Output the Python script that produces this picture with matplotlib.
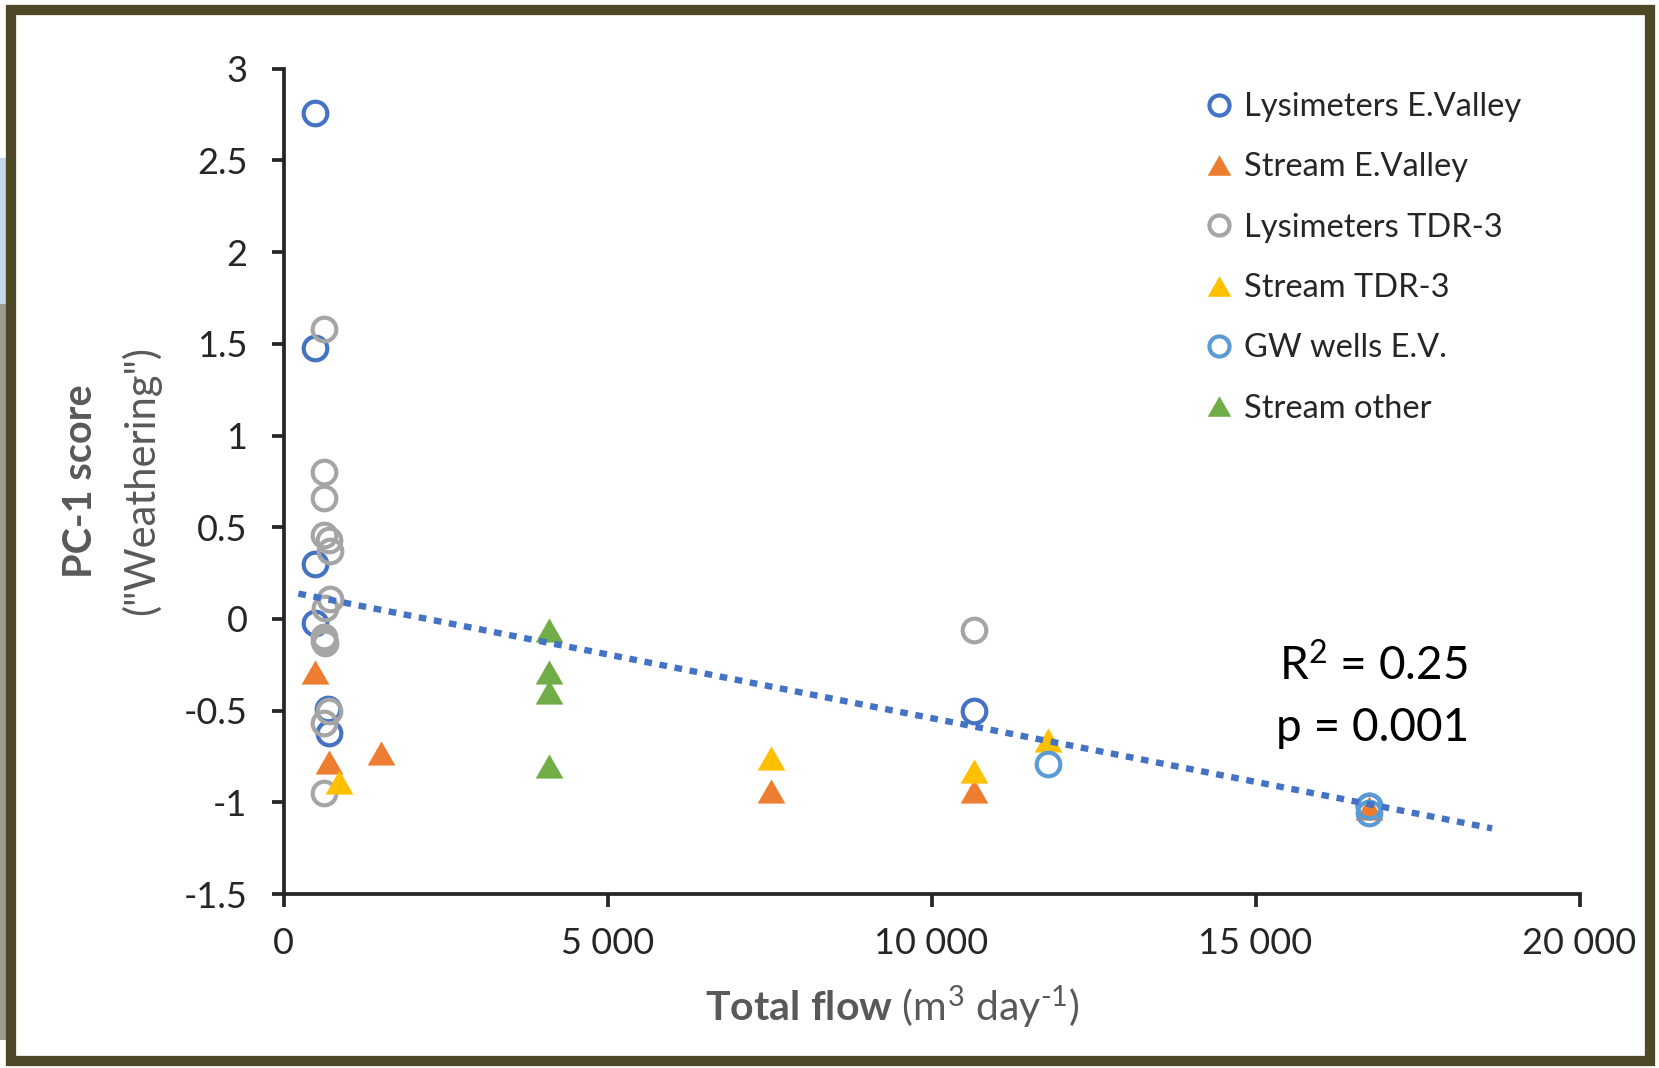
import matplotlib
matplotlib.use("Agg")
import matplotlib.pyplot as plt
from matplotlib.patches import Rectangle
from matplotlib.path import Path
from matplotlib.ticker import FuncFormatter

plt.rcParams['font.family'] = ['Lato', 'DejaVu Sans']
plt.rcParams['axes.unicode_minus'] = False
plt.rcParams['mathtext.fontset'] = 'custom'
plt.rcParams['mathtext.rm'] = 'Lato'
plt.rcParams['mathtext.bf'] = 'Lato:bold'
plt.rcParams['mathtext.it'] = 'Lato:italic'

# ---- data: total flow (m3/day) vs PC-1 score ----
lys_ev_x = [480, 480, 480, 480, 690, 700, 10650, 16750]
lys_ev_y = [2.76, 1.48, 0.30, -0.02, -0.49, -0.62, -0.50, -1.02]

stream_ev_x = [490, 700, 1500, 7530, 10650, 16750]
stream_ev_y = [-0.29, -0.78, -0.73, -0.94, -0.94, -1.03]

lys_tdr_x = [620, 620, 620, 620, 700, 720, 710, 640, 620, 640, 620, 700, 620, 620, 10650]
lys_tdr_y = [1.58, 0.80, 0.66, 0.46, 0.43, 0.37, 0.11, 0.06, -0.10, -0.13, -0.12, -0.50, -0.57, -0.95, -0.06]

stream_tdr_x = [850, 7530, 10650, 11800]
stream_tdr_y = [-0.89, -0.76, -0.83, -0.66]

gw_ev_x = [11800, 16750, 16750]
gw_ev_y = [-0.79, -1.02, -1.06]

stream_other_x = [4100, 4100, 4100, 4100]
stream_other_y = [-0.06, -0.29, -0.40, -0.80]

# linear trend (intercept, slope) and its drawn x-range
trend_x = [230, 18650]
trend_coef = (0.154, -6.95e-5)

x_ticks = [0, 5000, 10000, 15000, 20000]
y_ticks = [-1.5, -1, -0.5, 0, 0.5, 1, 1.5, 2, 2.5, 3]

series = [
    ("Lysimeters E.Valley", lys_ev_x, lys_ev_y, "o", "#4472C4"),
    ("Stream E.Valley", stream_ev_x, stream_ev_y, "tri", "#ED7D31"),
    ("Lysimeters TDR-3", lys_tdr_x, lys_tdr_y, "o", "#A5A5A5"),
    ("Stream TDR-3", stream_tdr_x, stream_tdr_y, "tri", "#FFC000"),
    ("GW wells E.V.", gw_ev_x, gw_ev_y, "o", "#5B9BD5"),
    ("Stream other", stream_other_x, stream_other_y, "tri", "#70AD47"),
]

# flat equilateral-ish triangle marker
tri_marker = Path([(0, 0.87), (-1, -0.87), (1, -0.87), (0, 0.87)],
                  [Path.MOVETO, Path.LINETO, Path.LINETO, Path.CLOSEPOLY])

W, H = 1659, 1068
fig = plt.figure(figsize=(W / 100, H / 100), dpi=100)
fig.patch.set_facecolor("white")

# photo strip peeking out at the left edge
fig.patches.append(Rectangle((0, 1 - 304 / H), 7 / W, (304 - 158) / H,
                             transform=fig.transFigure, facecolor="#C3D6EA",
                             edgecolor="none", zorder=-3))
fig.patches.append(Rectangle((0, 1 - 1040 / H), 7 / W, (1040 - 304) / H,
                             transform=fig.transFigure, facecolor="#9C9D8C",
                             edgecolor="none", zorder=-3))
# olive frame
fig.patches.append(Rectangle((11 / W, 1 - 1061 / H), (1650 - 11) / W, (1061 - 10) / H,
                             transform=fig.transFigure, facecolor="white",
                             edgecolor="#4E4827", linewidth=7.4, zorder=-2))

ax = fig.add_axes([283.5 / W, 1 - 894 / H, (1579.6 - 283.5) / W, (894 - 68.8) / H])
ax.set_zorder(1)
ax.set_facecolor("none")

for label, xs, ys, mk, col in series:
    if mk == "o":
        ax.plot(xs, ys, linestyle="none", marker="o", markersize=17,
                markerfacecolor="none", markeredgecolor=col, markeredgewidth=3.0,
                label=label, clip_on=False, zorder=3)
    else:
        ax.plot(xs, ys, linestyle="none", marker=tri_marker, markersize=20,
                markerfacecolor=col, markeredgecolor="none",
                label=label, clip_on=False, zorder=3)

b0, b1 = trend_coef
ax.plot(trend_x, [b0 + b1 * x for x in trend_x], color="#4472C4", linewidth=4.6,
        linestyle=(0, (1.2, 1.2)), dash_capstyle="butt", zorder=4)

ax.set_xlim(0, 20000)
ax.set_ylim(-1.5, 3)
ax.set_xticks(x_ticks)
ax.set_yticks(y_ticks)
ax.xaxis.set_major_formatter(FuncFormatter(lambda v, p: f"{int(v):,}".replace(",", " ")))
ax.yaxis.set_major_formatter(FuncFormatter(lambda v, p: f"{v:g}"))

for s in ["top", "right"]:
    ax.spines[s].set_visible(False)
for s in ["left", "bottom"]:
    ax.spines[s].set_linewidth(2.7)
    ax.spines[s].set_color("#262626")
ax.tick_params(axis="both", direction="out", length=9, width=2.7, color="#262626",
               labelsize=26, labelcolor="#262626")
ax.tick_params(axis="x", pad=15)
ax.tick_params(axis="y", pad=17)

fig.text(892 / W, 1 - 1007 / H, r"$\bf{Total\ flow}$ (m$^{3}$ day$^{\text{-}1}$)",
         ha="center", va="center", fontsize=29.5, color="#595959")
fig.text(80 / W, 1 - 481 / H, "PC-1 score", rotation=90, ha="center", va="center",
         fontsize=28.5, fontweight="bold", color="#595959")
fig.text(141 / W, 1 - 481 / H, '("Weathering")', rotation=90, ha="center", va="center",
         fontsize=30, color="#595959")

ax.text(1373 / W, 1 - 665 / H, r"R$^{2}$ = 0.25", transform=fig.transFigure,
        ha="center", va="center", fontsize=33, color="black")
ax.text(1373 / W, 1 - 728 / H, "p = 0.001", transform=fig.transFigure,
        ha="center", va="center", fontsize=33, color="black")

leg = ax.legend(loc="upper left", bbox_to_anchor=(1203 / W, 1 - 92 / H),
                bbox_transform=fig.transFigure, frameon=False, fontsize=23.5,
                handlelength=0.95, handletextpad=0.3, labelspacing=0.93,
                markerscale=0.85, borderpad=0, borderaxespad=0)
for t in leg.get_texts():
    t.set_color("#262626")

fig.savefig("out.png", dpi=100)
